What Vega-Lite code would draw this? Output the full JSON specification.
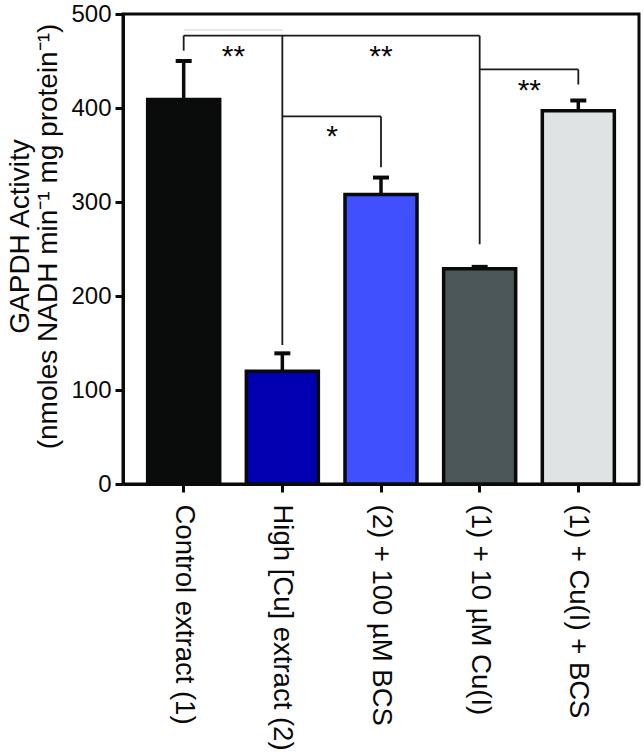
{
  "$schema": "https://vega.github.io/schema/vega-lite/v6.json",
  "autosize": "none",
  "width": 516,
  "height": 470,
  "padding": {"left": 123, "top": 14, "right": 5, "bottom": 269},
  "background": "white",
  "view": {"stroke": "#0a0a0a", "strokeWidth": 3},
  "config": {
    "font": "Liberation Sans",
    "axis": {"grid": false, "domainColor": "#0a0a0a", "tickColor": "#0a0a0a", "labelColor": "#0a0a0a", "titleColor": "#0a0a0a"}
  },
  "datasets": {
    "bars": [
      {"group": "Control extract (1)", "value": 409, "upper": 450, "color": "#0a0b0b"},
      {"group": "High [Cu] extract (2)", "value": 120, "upper": 139, "color": "#0000b0"},
      {"group": "(2) + 100 µM BCS", "value": 308, "upper": 326, "color": "#4050ff"},
      {"group": "(1) + 10 µM Cu(I)", "value": 229, "upper": 231, "color": "#4b5759"},
      {"group": "(1) + Cu(I) + BCS", "value": 397, "upper": 408, "color": "#dfe3e3"}
    ],
    "hlines": [
      {"from": "Control extract (1)", "to": "(1) + 10 µM Cu(I)", "y": 477},
      {"from": "High [Cu] extract (2)", "to": "(2) + 100 µM BCS", "y": 391},
      {"from": "(1) + 10 µM Cu(I)", "to": "(1) + Cu(I) + BCS", "y": 441}
    ],
    "vlines": [
      {"at": "Control extract (1)", "y1": 461, "y2": 477},
      {"at": "High [Cu] extract (2)", "y1": 148, "y2": 477},
      {"at": "(1) + 10 µM Cu(I)", "y1": 255, "y2": 477},
      {"at": "(2) + 100 µM BCS", "y1": 337, "y2": 391},
      {"at": "(1) + Cu(I) + BCS", "y1": 425, "y2": 441}
    ],
    "faint": [
      {"from": "Control extract (1)", "to": "High [Cu] extract (2)", "y": 483}
    ],
    "starsMid": [
      {"at": "Control extract (1)", "label": "**", "y": 461},
      {"at": "High [Cu] extract (2)", "label": "*", "y": 376},
      {"at": "(1) + 10 µM Cu(I)", "label": "**", "y": 425}
    ],
    "starsCenter": [
      {"at": "(2) + 100 µM BCS", "label": "**", "y": 461}
    ]
  },
  "layer": [
    {
      "data": {"name": "bars"},
      "mark": {"type": "bar", "stroke": "#0a0a0a", "strokeWidth": 3.5},
      "encoding": {
        "x": {
          "field": "group", "type": "nominal", "sort": null,
          "scale": {"paddingInner": 0.27, "paddingOuter": 0.25},
          "axis": {
            "title": null, "labelAngle": 90, "labelAlign": "left", "labelBaseline": "middle",
            "labelFontSize": 27.5, "labelPadding": 12, "domainWidth": 3, "tickWidth": 3, "tickSize": 8, "labelLimit": 300
          }
        },
        "y": {
          "field": "value", "type": "quantitative",
          "scale": {"domain": [0, 500], "nice": false},
          "axis": {
            "values": [0, 100, 200, 300, 400, 500],
            "title": ["GAPDH Activity", "(nmoles NADH min⁻¹ mg protein⁻¹)"],
            "titleFontSize": 28, "titleFontWeight": "normal", "titleLineHeight": 28,
            "titleY": 222,
            "labelFontSize": 24, "labelPadding": 4, "titlePadding": 8,
            "domainWidth": 3, "tickWidth": 3, "tickSize": 8
          }
        },
        "fill": {"field": "color", "type": "nominal", "scale": null}
      }
    },
    {
      "data": {"name": "bars"},
      "mark": {"type": "rule", "strokeWidth": 3.5, "color": "#0a0a0a"},
      "encoding": {
        "x": {"field": "group", "type": "nominal", "sort": null},
        "y": {"field": "value", "type": "quantitative"},
        "y2": {"field": "upper"}
      }
    },
    {
      "data": {"name": "bars"},
      "mark": {"type": "tick", "orient": "horizontal", "size": 16, "thickness": 4, "color": "#0a0a0a", "opacity": 1},
      "encoding": {
        "x": {"field": "group", "type": "nominal", "sort": null},
        "y": {"field": "upper", "type": "quantitative"}
      }
    },
    {
      "data": {"name": "hlines"},
      "mark": {"type": "rule", "strokeWidth": 1.8, "color": "#1a1a1a"},
      "encoding": {
        "x": {"field": "from", "type": "nominal", "sort": null},
        "x2": {"field": "to"},
        "y": {"field": "y", "type": "quantitative"}
      }
    },
    {
      "data": {"name": "faint"},
      "mark": {"type": "rule", "strokeWidth": 1.2, "color": "#d0d0d0"},
      "encoding": {
        "x": {"field": "from", "type": "nominal", "sort": null},
        "x2": {"field": "to"},
        "y": {"field": "y", "type": "quantitative"}
      }
    },
    {
      "data": {"name": "vlines"},
      "mark": {"type": "rule", "strokeWidth": 1.8, "color": "#1a1a1a"},
      "encoding": {
        "x": {"field": "at", "type": "nominal", "sort": null},
        "y": {"field": "y1", "type": "quantitative"},
        "y2": {"field": "y2"}
      }
    },
    {
      "data": {"name": "starsMid"},
      "mark": {"type": "text", "fontSize": 30, "color": "#0a0a0a", "baseline": "middle", "dy": 6, "letterSpacing": 3},
      "encoding": {
        "x": {"field": "at", "type": "nominal", "sort": null, "bandPosition": 1.19},
        "y": {"field": "y", "type": "quantitative"},
        "text": {"field": "label"}
      }
    },
    {
      "data": {"name": "starsCenter"},
      "mark": {"type": "text", "fontSize": 30, "color": "#0a0a0a", "baseline": "middle", "dy": 6, "letterSpacing": 3},
      "encoding": {
        "x": {"field": "at", "type": "nominal", "sort": null},
        "y": {"field": "y", "type": "quantitative"},
        "text": {"field": "label"}
      }
    }
  ]
}
